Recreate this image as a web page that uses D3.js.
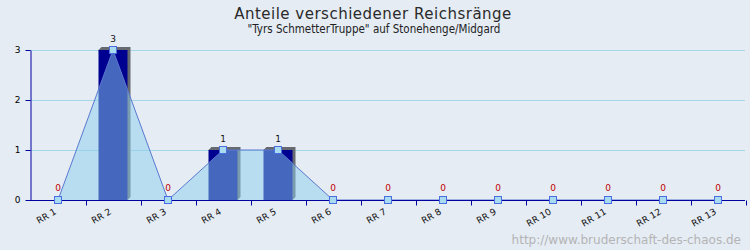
<!DOCTYPE html>
<html>
<head>
<meta charset="utf-8">
<script src="https://cdn.jsdelivr.net/npm/d3@7"></script>
<style>
  html, body { margin: 0; padding: 0; background: #e5ecf4; }
  svg { display: block; font-family: "DejaVu Sans", sans-serif; }
</style>
</head>
<body>
<div id="chart"></div>
<script>
const categories = ["RR 1", "RR 2", "RR 3", "RR 4", "RR 5", "RR 6", "RR 7",
                    "RR 8", "RR 9", "RR 10", "RR 11", "RR 12", "RR 13"];
const values = [0, 3, 0, 1, 1, 0, 0, 0, 0, 0, 0, 0, 0];
const yTicks = [0, 1, 2, 3];
const title = "Anteile verschiedener Reichsränge";
const subtitle = "\"Tyrs SchmetterTruppe\" auf Stonehenge/Midgard";
const footer = "http://www.bruderschaft-des-chaos.de";

const width = 750, height = 250;
const margin = { left: 30, right: 5, top: 50, bottom: 50 };

const svg = d3.select("#chart").append("svg")
    .attr("width", width)
    .attr("height", height);

svg.append("rect").attr("width", width).attr("height", height).attr("fill", "#e5ecf4");

const x = d3.scaleBand()
    .domain(categories)
    .range([margin.left + 0.5, width - margin.right + 0.5]);

const y = d3.scaleLinear()
    .domain([0, 3])
    .range([height - margin.bottom, margin.top]);

const cx = d => x(d) + x.bandwidth() / 2;
const data = categories.map((c, i) => ({ cat: c, value: values[i] }));

// grid lines
svg.append("g")
    .selectAll("line")
    .data(yTicks.filter(t => t > 0))
    .enter()
    .append("line")
    .attr("x1", margin.left)
    .attr("x2", width - margin.right)
    .attr("y1", d => y(d) + 0.5)
    .attr("y2", d => y(d) + 0.5)
    .attr("stroke", "#a4d8e8")
    .attr("stroke-width", 1);

// bars with a little 3d shadow
const barW = 29;
const depth = 3;
const bars = svg.append("g").selectAll("g")
    .data(data.filter(d => d.value > 0))
    .enter()
    .append("g");

bars.append("path")
    .attr("fill", "#666a70")
    .attr("d", d => {
        const x0 = cx(d.cat) - barW / 2, x1 = x0 + barW;
        const top = y(d.value), base = y(0);
        return `M${x0},${top} L${x0 + depth},${top - depth} L${x1 + depth},${top - depth} L${x1 + depth},${base - depth} L${x1},${base} Z`;
    });

bars.append("rect")
    .attr("x", d => cx(d.cat) - barW / 2)
    .attr("y", d => y(d.value))
    .attr("width", barW)
    .attr("height", d => y(0) - y(d.value))
    .attr("fill", "#000090");

// area over the bars
const area = d3.area()
    .x(d => cx(d.cat))
    .y0(y(0))
    .y1(d => y(d.value));

svg.append("path")
    .datum(data)
    .attr("d", area)
    .attr("fill", "rgba(140, 205, 235, 0.5)");

const line = d3.line()
    .x(d => cx(d.cat))
    .y(d => y(d.value));

svg.append("path")
    .datum(data)
    .attr("d", line)
    .attr("fill", "none")
    .attr("stroke", "#5a78d0")
    .attr("stroke-width", 1);

// axes
const yAxis = svg.append("g")
    .attr("transform", `translate(${margin.left + 0.5},0)`)
    .call(d3.axisLeft(y).tickValues(yTicks).tickFormat(d3.format("d")).tickSize(5).tickSizeOuter(0));
yAxis.select(".domain").attr("stroke", "#0000a0");
yAxis.selectAll(".tick line").attr("stroke", "#0000a0");
yAxis.selectAll(".tick text").attr("font-size", 9).attr("fill", "#000").attr("x", -10)
    .attr("font-family", "DejaVu Sans");

const xg = svg.append("g").attr("transform", `translate(0,${y(0) + 0.5})`);
xg.append("line")
    .attr("x1", margin.left)
    .attr("x2", width - margin.right)
    .attr("stroke", "#0000a0");
xg.selectAll("line.tick")
    .data(categories)
    .enter()
    .append("line")
    .attr("class", "tick")
    .attr("x1", d => Math.round(x(d) + x.bandwidth()) + 0.5)
    .attr("x2", d => Math.round(x(d) + x.bandwidth()) + 0.5)
    .attr("y1", 0)
    .attr("y2", 5)
    .attr("stroke", "#0000a0");

xg.selectAll("text")
    .data(categories)
    .enter()
    .append("text")
    .attr("text-anchor", "end")
    .attr("font-size", 9)
    .attr("fill", "#111")
    .attr("transform", d => `translate(${cx(d) - 1},${13}) rotate(-30)`)
    .text(d => d);

// markers
svg.append("g").selectAll("rect")
    .data(data)
    .enter()
    .append("rect")
    .attr("x", d => cx(d.cat) - 3.5)
    .attr("y", d => y(d.value) - 3.5)
    .attr("width", 7)
    .attr("height", 7)
    .attr("fill", "#a8daf0")
    .attr("stroke", "#4a6ee0")
    .attr("stroke-width", 1);

// value labels
svg.append("g").selectAll("text")
    .data(data)
    .enter()
    .append("text")
    .attr("x", d => cx(d.cat))
    .attr("y", d => y(d.value) - (d.value > 0 ? 8 : 9))
    .attr("text-anchor", "middle")
    .attr("font-size", 9)
    .attr("fill", d => d.value > 0 ? "#111" : "#c00000")
    .text(d => d.value);

// titles
svg.append("text")
    .attr("x", 373)
    .attr("y", 19)
    .attr("text-anchor", "middle")
    .attr("font-size", 15)
    .attr("letter-spacing", 0.5)
    .attr("fill", "#2a2a2a")
    .text(title);

svg.append("text")
    .attr("x", 374)
    .attr("y", 33)
    .attr("text-anchor", "middle")
    .attr("font-size", 11.5)
    .attr("font-family", "DejaVu Sans Condensed")
    .attr("fill", "#222")
    .text(subtitle);

svg.append("text")
    .attr("x", width - 9)
    .attr("y", 244)
    .attr("text-anchor", "end")
    .attr("font-size", 12)
    .attr("fill", "#b4b4b4")
    .text(footer);
</script>
</body>
</html>
